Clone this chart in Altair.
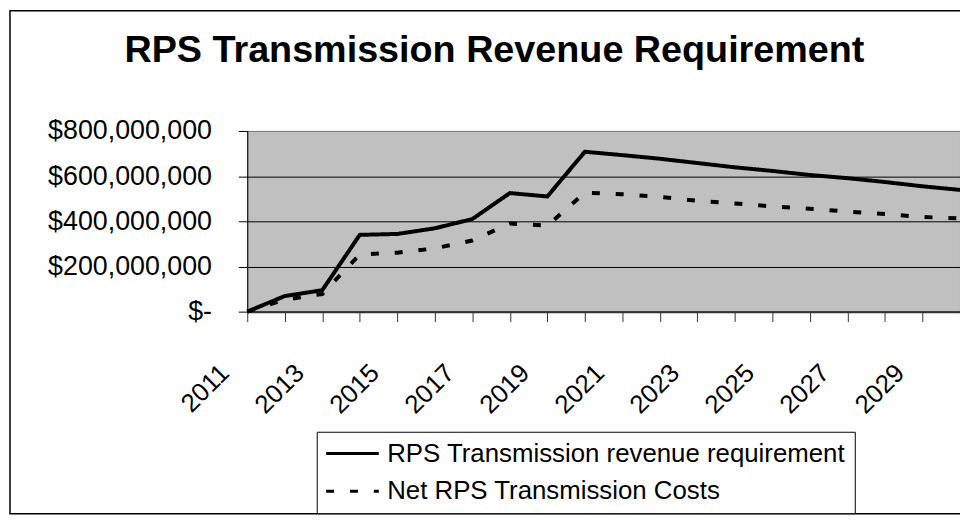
import altair as alt
import pandas as pd

# ---- data (values in millions of dollars) ----
years = list(range(2011, 2031))
revenue_requirement = [0, 69, 95, 340, 344, 369, 410, 525, 510, 708,
                       693, 677, 658, 639, 623, 605, 591, 574, 555, 539]
net_costs = [0, 53, 78, 253, 261, 280, 315, 390, 381, 527,
             520, 508, 491, 479, 466, 456, 443, 432, 419, 413]
series_names = ["RPS Transmission revenue requirement", "Net RPS Transmission Costs"]
y_ticks = [0, 200000000, 400000000, 600000000, 800000000]
title_text = "RPS Transmission Revenue Requirement"

FONT = "Liberation Sans"

rows = []
for name, vals in zip(series_names, [revenue_requirement, net_costs]):
    for yr, v in zip(years, vals):
        rows.append({"year": yr, "value": v * 1_000_000, "series": name})
df = pd.DataFrame(rows)

x_axis = alt.Axis(
    values=years,
    labelExpr="datum.value % 2 == 1 ? '' + datum.value : ''",
    labelAngle=315,
    labelFont=FONT,
    labelFontSize=26,
    labelColor="black",
    labelPadding=38,
    labelOffset=-32,
    labelFlush=False,
    labelOverlap=False,
    tickSize=10,
    tickColor="#333333",
    tickWidth=1,
    domainColor="#333333",
    domainWidth=2,
    grid=False,
    title=None,
)

y_axis = alt.Axis(
    values=y_ticks,
    labelExpr="datum.value == 0 ? '$-\u00a0\u00a0\u00a0\u00a0' : '$' + format(datum.value, ',')",
    labelFont=FONT,
    labelFontSize=27,
    labelColor="black",
    labelPadding=27,
    tickSize=9,
    tickColor="black",
    domainColor="black",
    domainWidth=1,
    grid=True,
    gridColor={"condition": {"test": "datum.value == 800000000", "value": "#808080"}, "value": "black"},
    gridWidth=1,
    title=None,
)

legend = alt.Legend(
    orient="none",
    legendX=70,
    legendY=303,
    direction="vertical",
    title=None,
    labelFont=FONT,
    labelFontSize=26,
    labelColor="black",
    labelLimit=1000,
    labelOffset=22,
    symbolType="M-2.65,0H2.65",
    symbolSize=400,
    symbolOffset=14,
    symbolStrokeWidth=3,
    symbolStrokeColor="black",
    strokeColor="black",
    fillColor="white",
    padding=9,
    rowPadding=12,
    cornerRadius=0,
)

lines = alt.Chart(df).mark_line(color="black", strokeWidth=4, strokeCap="butt").encode(
    x=alt.X("year:Q", scale=alt.Scale(domain=[years[0], years[-1]], nice=False, zero=False), axis=x_axis),
    y=alt.Y("value:Q", scale=alt.Scale(domain=[0, 800000000], nice=False), axis=y_axis),
    strokeDash=alt.StrokeDash(
        "series:N",
        scale=alt.Scale(domain=series_names, range=[[1, 0], [8, 16]]),
        legend=legend,
    ),
    detail="series:N",
)

frame = alt.Chart(pd.DataFrame({"k": [0]})).mark_rect(
    fillOpacity=0, stroke="black", strokeWidth=1.5
).encode(
    x=alt.value(-239), x2=alt.value(740), y=alt.value(-121), y2=alt.value(385.5)
)

chart = alt.layer(frame, lines).properties(
    width=718,
    height=182,
    background="white",
    autosize=alt.AutoSizeParams(type="none"),
    padding={"left": 241, "top": 122, "right": 0, "bottom": 205},
    title=alt.TitleParams(
        text=title_text,
        font=FONT,
        fontSize=38,
        fontWeight="bold",
        color="black",
        anchor="middle",
        frame="group",
        dx=-110,
        offset=-90,
        baseline="alphabetic",
    ),
).configure_view(
    fill="#C0C0C0", stroke="#808080", strokeWidth=1
)

chart.save("out.html", embed_options={"renderer": "svg", "actions": False})
